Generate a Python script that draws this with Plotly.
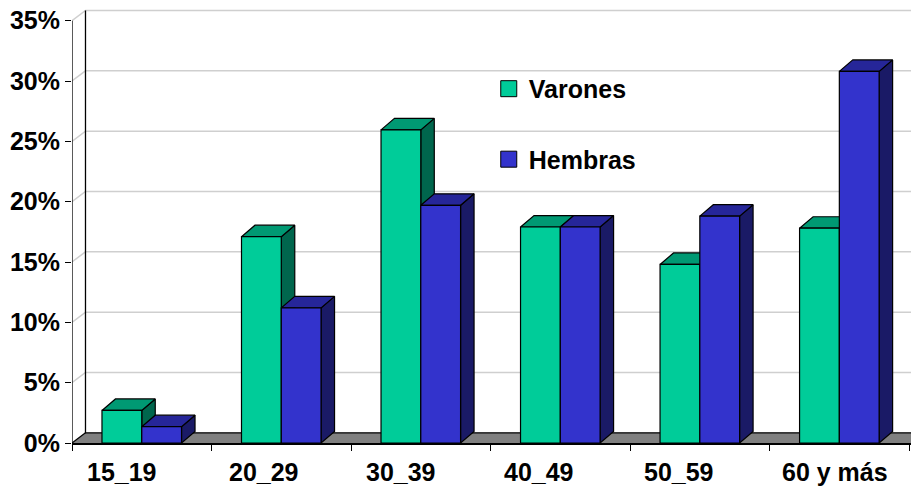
import plotly.graph_objects as go

grupos = ["15_19", "20_29", "30_39", "40_49", "50_59", "60 y más"]
varones = [2.7, 17.1, 25.95, 17.9, 14.8, 17.8]
hembras = [1.35, 11.2, 19.7, 17.9, 18.8, 30.8]
y_ticks = [0, 5, 10, 15, 20, 25, 30, 35]
y_labels = ["0%", "5%", "10%", "15%", "20%", "25%", "30%", "35%"]

# las etiquetas del original no van centradas en su categoria
label_shift = [-20, -17, -20, -21, -21, -4]

VERDE = ("#00CC99", "#009973", "#00664D")
AZUL = ("#3333CC", "#262699", "#1A1A66")
FUENTE = "Liberation Sans, Arial, sans-serif"

# tamaños en px del dibujo, para pasar a unidades de los ejes
W, H = 911, 487
M_L, M_T, M_B = 71.5, 9, 43.5
CAT_PX = 139.6
PCT_PX = 12.08

X_MIN = -0.5
X_MAX = -0.5 + (W - M_L) / CAT_PX
Y_MAX = (H - M_T - M_B) / PCT_PX

BAR_GAP = 60 / CAT_PX
BAR_W = (1 - BAR_GAP) / 2
DX = 13.5 / CAT_PX     # fondo de las barras y de la pared
DY_BAR = 11.5 / PCT_PX
DY_WALL = 10.2 / PCT_PX


def cara(xs, ys, color):
    return go.Scatter(
        x=xs + xs[:1], y=ys + ys[:1],
        mode="lines", fill="toself", fillcolor=color,
        line=dict(color="#000000", width=1.2),
        hoverinfo="skip", showlegend=False,
    )


def caras_barra(x0, v, colores):
    x1 = x0 + BAR_W
    lado = cara([x1, x1 + DX, x1 + DX, x1], [0, DY_BAR, v + DY_BAR, v], colores[2])
    techo = cara([x0, x1, x1 + DX, x0 + DX], [v, v, v + DY_BAR, v + DY_BAR], colores[1])
    return [lado, techo]


traces = []

# suelo gris
back_x = X_MIN + DX
traces.append(go.Scatter(
    x=[X_MIN, X_MAX, X_MAX, back_x, X_MIN], y=[0, 0, DY_WALL, DY_WALL, 0],
    mode="lines", fill="toself", fillcolor="#808080",
    line=dict(color="#808080", width=0), hoverinfo="skip", showlegend=False,
))

# rejilla de la pared trasera y diagonales
grid_x, grid_y = [], []
for t in y_ticks[1:]:
    grid_x += [X_MIN, back_x, X_MAX, None]
    grid_y += [t, t + DY_WALL, t + DY_WALL, None]
traces.append(go.Scatter(
    x=grid_x, y=grid_y, mode="lines",
    line=dict(color="#CFCFCF", width=1.5), hoverinfo="skip", showlegend=False,
))

# lineas negras: eje frontal, pared y fondo del suelo
top = y_ticks[-1]
traces.append(go.Scatter(
    x=[X_MIN, X_MIN, None, back_x, back_x, X_MAX, None, X_MIN, back_x],
    y=[0, top, None, top + DY_WALL, DY_WALL, DY_WALL, None, 0, DY_WALL],
    mode="lines", line=dict(color="#000000", width=1.3),
    hoverinfo="skip", showlegend=False,
))

for i, (v, h) in enumerate(zip(varones, hembras)):
    traces += caras_barra(i - BAR_W, v, VERDE)
    traces += caras_barra(i, h, AZUL)

# leyenda
for nombre, colores in [("Varones", VERDE), ("Hembras", AZUL)]:
    traces.append(go.Scatter(
        x=[None], y=[None], mode="markers", name=nombre, legendgroup=nombre,
        marker=dict(symbol="square", size=16, color=colores[0],
                    line=dict(color="#000000", width=1)),
    ))

# caras frontales, en ejes superpuestos para que tapen los laterales
for nombre, valores, colores in [("Varones", varones, VERDE), ("Hembras", hembras, AZUL)]:
    traces.append(go.Bar(
        x=grupos, y=valores, name=nombre, xaxis="x2", yaxis="y2",
        marker=dict(color=colores[0], line=dict(color="#000000", width=1.2)),
        showlegend=False,
        hovertemplate="%{x}: %{y}%<extra>" + nombre + "</extra>",
    ))

fig = go.Figure(data=traces)
tick_font = dict(family=FUENTE, size=25, color="#000000", weight=700)
fig.update_layout(
    width=W, height=H,
    margin=dict(l=M_L, r=0, t=M_T, b=M_B, pad=0, autoexpand=False),
    paper_bgcolor="#FFFFFF", plot_bgcolor="#FFFFFF",
    barmode="group", bargap=BAR_GAP, bargroupgap=0,
    xaxis=dict(range=[X_MIN, X_MAX], visible=False),
    yaxis=dict(
        range=[0, Y_MAX], tickvals=y_ticks, ticktext=y_labels,
        showgrid=False, zeroline=False, showline=False,
        ticks="outside", ticklen=6, tickwidth=1.3, tickcolor="#000000",
        tickfont=tick_font,
    ),
    xaxis2=dict(
        type="category", categoryorder="array", categoryarray=grupos,
        overlaying="x", anchor="y2", range=[X_MIN, X_MAX],
        tickson="boundaries", ticks="outside", ticklen=6, tickwidth=1.3,
        tickcolor="#000000", showline=True, linecolor="#000000", linewidth=1.5,
        showgrid=False, showticklabels=False,
    ),
    yaxis2=dict(overlaying="y", anchor="x2", range=[0, Y_MAX], visible=False),
    legend=dict(
        x=(488.5 - M_L) / (W - M_L), y=1 - (66 - M_T) / (H - M_T - M_B), yanchor="top",
        bgcolor="rgba(0,0,0,0)", tracegroupgap=35,
        font=dict(family=FUENTE, size=25, color="#000000", weight=700),
    ),
    showlegend=True,
    annotations=[
        dict(text=g, x=i, xref="x2", y=0, yref="paper", yanchor="top",
             yshift=-13, xshift=s, showarrow=False, font=tick_font)
        for i, (g, s) in enumerate(zip(grupos, label_shift))
    ],
)

fig.write_html("out.html", config=dict(displayModeBar=False),
               post_script="document.body.style.margin='0';")
